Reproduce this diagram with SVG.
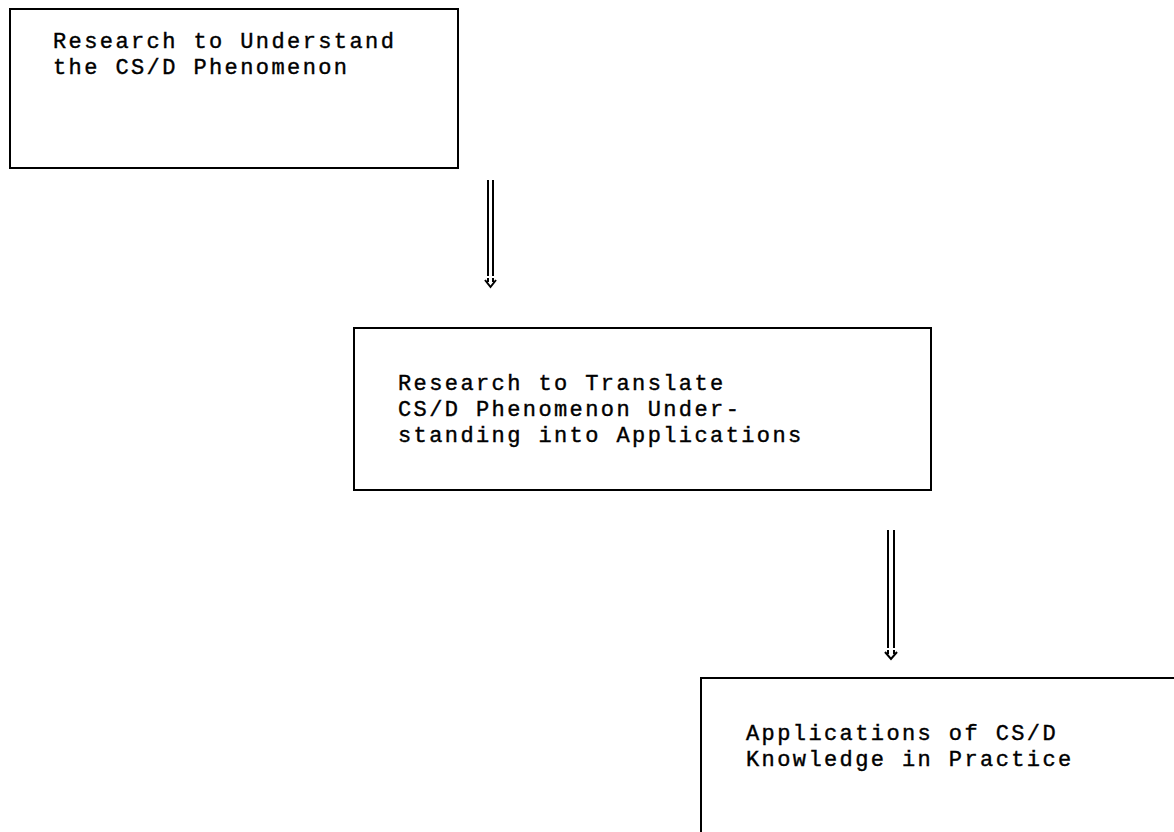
<svg xmlns="http://www.w3.org/2000/svg" width="1174" height="832" viewBox="0 0 1174 832">
<style>
.box{fill:none;stroke:#000;stroke-width:2}
.t{font-family:"Liberation Mono","Courier New",monospace;font-size:22px;letter-spacing:2.4px;fill:#000;stroke:#000;stroke-width:0.4}
.c{fill:none;stroke:#000;stroke-width:2}
</style>
<rect width="1174" height="832" fill="#fff"/>
<g id="node1">
<rect class="box" x="10" y="9" width="448" height="159"/>
<text class="t" x="53" y="48">Research to Understand</text>
<text class="t" x="53" y="74">the CS/D Phenomenon</text>
</g>
<g id="node2">
<rect class="box" x="354" y="328" width="577" height="162"/>
<text class="t" x="398" y="390">Research to Translate</text>
<text class="t" x="398" y="416">CS/D Phenomenon Under-</text>
<text class="t" x="398" y="442">standing into Applications</text>
</g>
<g id="node3">
<rect class="box" x="701" y="678" width="480" height="170"/>
<text class="t" x="746" y="740">Applications of CS/D</text>
<text class="t" x="746" y="766">Knowledge in Practice</text>
</g>
<g id="connectors">
<path class="c" d="M488,180 V276 M493,180 V276"/>
<path class="c" stroke-width="1.5" d="M488,278 V282 M493,278 V282 M485,280 L490.5,287 L496,280"/>
<path class="c" d="M888,530 V648 M894,530 V648"/>
<path class="c" stroke-width="1.5" d="M888,650 V654 M894,650 V654 M885,652 L891,659 L897,652"/>
</g>
</svg>
